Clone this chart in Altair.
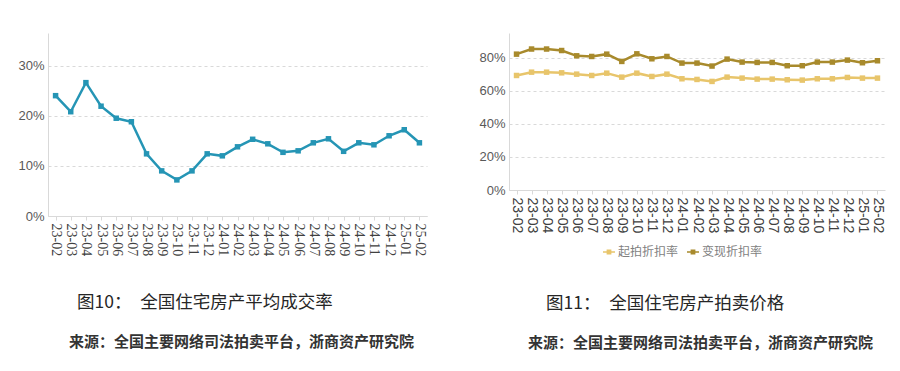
import altair as alt
import pandas as pd

months = ["23-02", "23-03", "23-04", "23-05", "23-06", "23-07", "23-08", "23-09",
          "23-10", "23-11", "23-12", "24-01", "24-02", "24-03", "24-04", "24-05",
          "24-06", "24-07", "24-08", "24-09", "24-10", "24-11", "24-12", "25-01", "25-02"]

# 全国住宅房产平均成交率 (%)
deal_rate = [24.0, 20.8, 26.6, 21.9, 19.5, 18.8, 12.4, 9.0, 7.2, 9.0, 12.4, 12.0, 13.8,
             15.3, 14.4, 12.7, 13.0, 14.6, 15.4, 12.9, 14.6, 14.2, 16.0, 17.2, 14.6]

# 起拍折扣率 (%)
start_rate = [69.3, 71.3, 71.3, 70.9, 70.1, 69.3, 70.7, 68.3, 70.7, 68.7, 70.1, 67.3, 66.9,
              65.7, 68.3, 67.7, 67.1, 67.1, 66.7, 66.5, 67.3, 67.3, 68.1, 67.7, 67.7]
# 变现折扣率 (%)
realize_rate = [82.2, 85.3, 85.3, 84.4, 81.2, 80.8, 82.2, 77.8, 82.4, 79.4, 80.8, 76.8, 76.8,
                75.0, 79.2, 77.4, 77.2, 77.2, 75.2, 75.2, 77.4, 77.4, 78.6, 77.0, 78.2]

series_names = ["起拍折扣率", "变现折扣率"]
series_colors = ["#e8c56b", "#a88a2c"]
left_color = "#2595b5"

left_ticks = [0, 10, 20, 30]
right_ticks = [0, 20, 40, 60, 80]

source_text = "来源：全国主要网络司法拍卖平台，浙商资产研究院"

left_df = pd.DataFrame({"month": months, "rate": deal_rate})
right_df = pd.DataFrame({
    "month": months + months,
    "rate": start_rate + realize_rate,
    "series": [series_names[0]] * len(months) + [series_names[1]] * len(months),
})

grid_color = "#d9d9d9"


def x_enc(font):
    return alt.X("month:O", sort=months, scale=alt.Scale(padding=0.5),
                 axis=alt.Axis(title=None, labelAngle=90, labelFont=font, labelFontSize=14,
                               labelColor="#404040", domainColor=grid_color,
                               tickColor=grid_color, tickSize=4, labelPadding=3, grid=False))


def y_enc(top, ticks):
    return alt.Y("rate:Q", scale=alt.Scale(domain=[0, top], nice=False, zero=True),
                 axis=alt.Axis(title=None, values=ticks, labelExpr="datum.value + '%'",
                               labelFont="Liberation Sans", labelFontSize=13,
                               labelColor="#595959", ticks=False, labelPadding=4,
                               domainColor=grid_color, grid=True, gridColor=grid_color,
                               gridDash=[3, 3]))


def caption(text, dx, offset):
    return alt.TitleParams(
        text=text, orient="bottom", anchor="start", dx=dx, offset=offset,
        font="Noto Sans CJK SC", fontSize=17.5, fontWeight="normal", color="#262626",
    )


def source(dx, offset):
    return alt.TitleParams(
        text=source_text, orient="bottom", anchor="start", dx=dx, offset=offset,
        font="Noto Sans CJK SC", fontSize=15, fontWeight="bold", color="#333333",
    )


left_base = alt.Chart(left_df).encode(x=x_enc("Liberation Serif"), y=y_enc(36.5, left_ticks))
left_inner = alt.layer(
    left_base.mark_line(color=left_color, strokeWidth=2.5),
    left_base.mark_point(shape="square", filled=True, size=30, opacity=1, color=left_color),
).properties(width=379, height=183,
             title=caption("图10：\u2002全国住宅房产平均成交率", 59, 38))
left = alt.vconcat(left_inner, title=source(51, 24))

color_enc = alt.Color("series:N", sort=series_names,
                      scale=alt.Scale(domain=series_names, range=series_colors),
                      legend=alt.Legend(title=None, orient="none", legendX=94, legendY=213,
                                        direction="horizontal",
                                        symbolType="M-1,-0.12H1V0.12H-1Z M-0.4,-0.4H0.4V0.4H-0.4Z",
                                        symbolSize=144, symbolStrokeWidth=0,
                                        labelFont="Noto Sans CJK SC", labelFontSize=12,
                                        labelColor="#7f7f7f", columnPadding=8, labelOffset=3))

right_base = alt.Chart(right_df).encode(x=x_enc("Liberation Sans"), y=y_enc(95, right_ticks),
                                        color=color_enc)
right_inner = alt.layer(
    right_base.mark_line(strokeWidth=2.5),
    right_base.mark_point(shape="square", filled=True, size=30, opacity=1),
).properties(width=376, height=157,
             title=caption("图11：\u2002全国住宅房产拍卖价格", 67, 36.5))
right = alt.vconcat(right_inner, title=source(49, 24)).resolve_scale(
    color="independent").resolve_legend(color="independent")

chart = alt.hconcat(left, right, spacing=51).resolve_scale(color="independent").resolve_legend(
    color="independent"
).properties(
    padding={"left": 9, "top": 25, "right": 6, "bottom": 0},
    background="white",
).configure_view(stroke=None)

chart.save("out.html", embed_options={"renderer": "svg", "actions": False})
